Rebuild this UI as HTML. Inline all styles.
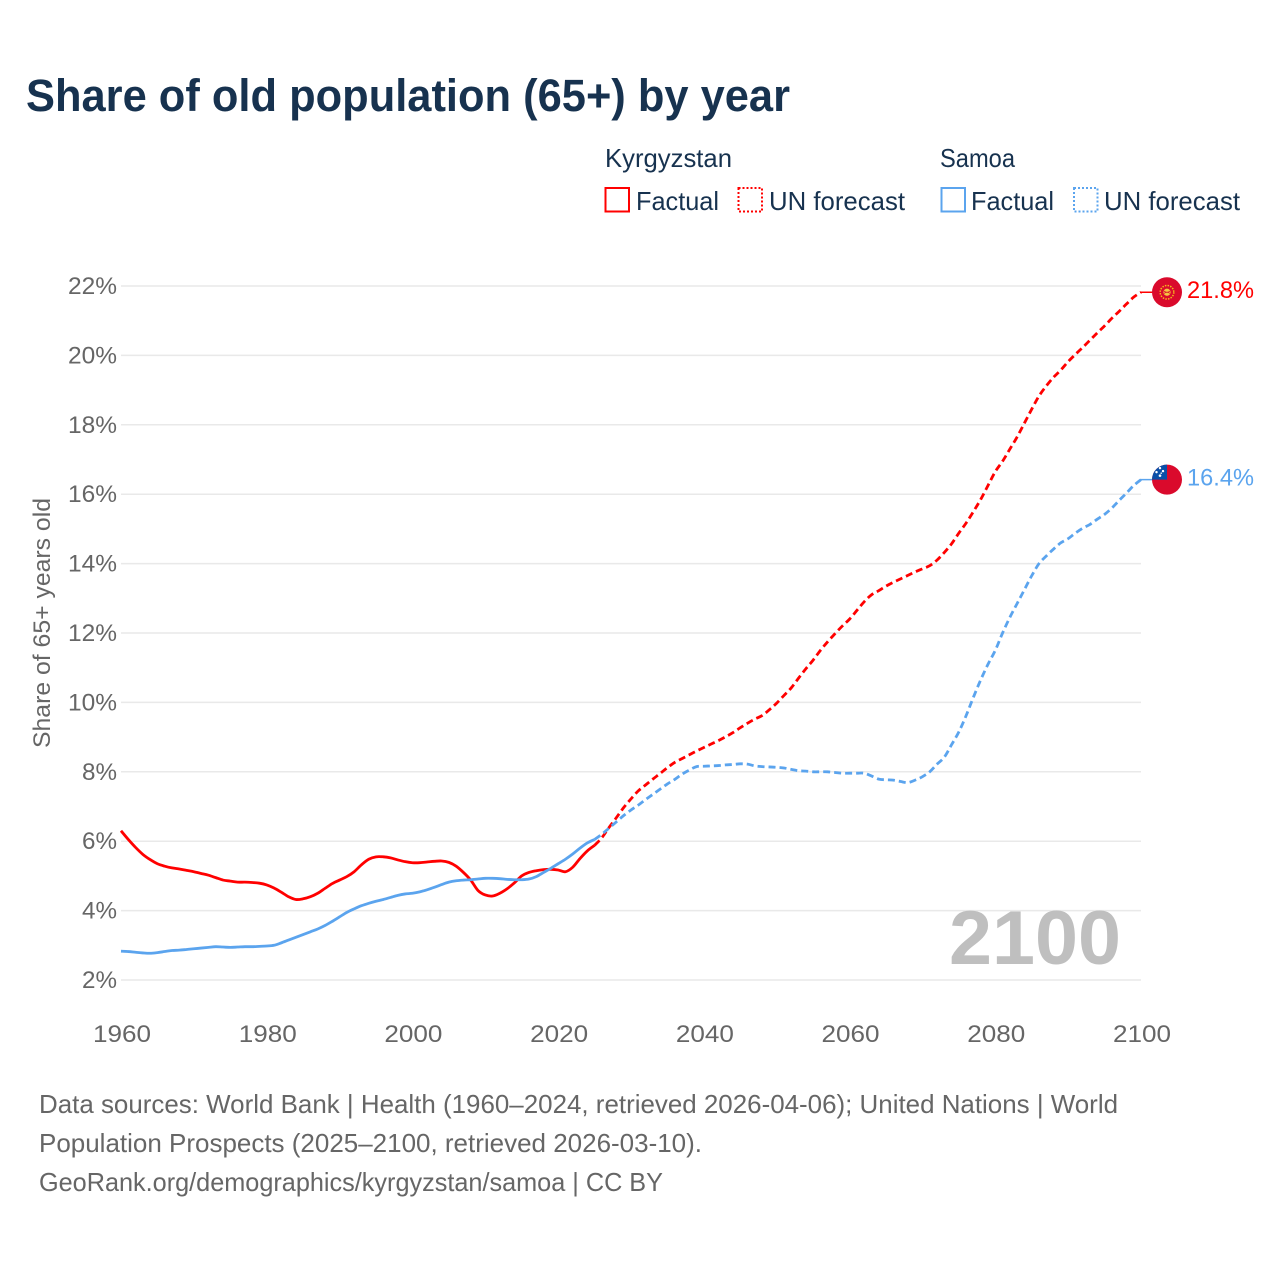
<!DOCTYPE html>
<html lang="en">
<head>
<meta charset="utf-8">
<title>Share of old population (65+) by year</title>
<style>
html,body{margin:0;padding:0;background:#fff;width:1280px;height:1280px;overflow:hidden}
svg{display:block}
text{font-family:"Liberation Sans",sans-serif}
</style>
</head>
<body>
<svg id="chart" width="1280" height="1280" viewBox="0 0 1280 1280" xmlns="http://www.w3.org/2000/svg">
  <defs>
    <clipPath id="flag-clip-kg"><circle cx="0" cy="0" r="15"/></clipPath>
    <clipPath id="flag-clip-ws"><circle cx="0" cy="0" r="15"/></clipPath>
  </defs>
  <rect x="0" y="0" width="1280" height="1280" fill="#fff"/>
  <text x="26" y="111" font-size="45" font-weight="700" fill="#17324f" textLength="764" lengthAdjust="spacingAndGlyphs">Share of old population (65+) by year</text>

  <g>
    <text x="605" y="167" font-size="26" fill="#17324f" textLength="127" lengthAdjust="spacingAndGlyphs">Kyrgyzstan</text>
    <rect x="605.500" y="188" width="23.500" height="23.500" fill="none" stroke="#ff0000" stroke-width="2"/>
    <text x="636" y="210" font-size="26" fill="#17324f" textLength="83" lengthAdjust="spacingAndGlyphs">Factual</text>
    <rect x="738.500" y="188" width="23.500" height="23.500" fill="none" stroke="#ff0000" stroke-width="2" stroke-dasharray="2 2"/>
    <text x="769" y="210" font-size="26" fill="#17324f" textLength="136" lengthAdjust="spacingAndGlyphs">UN forecast</text>

    <text x="940" y="167" font-size="26" fill="#17324f" textLength="75" lengthAdjust="spacingAndGlyphs">Samoa</text>
    <rect x="941.500" y="188" width="23.500" height="23.500" fill="none" stroke="#5ba4ee" stroke-width="2"/>
    <text x="971" y="210" font-size="26" fill="#17324f" textLength="83" lengthAdjust="spacingAndGlyphs">Factual</text>
    <rect x="1074" y="188" width="23.500" height="23.500" fill="none" stroke="#5ba4ee" stroke-width="2" stroke-dasharray="2 2"/>
    <text x="1104" y="210" font-size="26" fill="#17324f" textLength="136" lengthAdjust="spacingAndGlyphs">UN forecast</text>
  </g>

  <g id="grid"></g>
  <g id="y-axis"></g>
  <g id="x-axis"></g>

  <text transform="translate(50,748) rotate(-90)" x="0" y="0" font-size="24" fill="#666" textLength="250" lengthAdjust="spacingAndGlyphs">Share of 65+ years old</text>
  <text x="949" y="964" font-size="76" font-weight="700" fill="#bfbfbf" textLength="172" lengthAdjust="spacingAndGlyphs">2100</text>

  <g id="series"></g>

  <g font-size="26" fill="#666">
    <text x="39" y="1113" textLength="1079" lengthAdjust="spacingAndGlyphs">Data sources: World Bank | Health (1960–2024, retrieved 2026-04-06); United Nations | World</text>
    <text x="39" y="1152" textLength="663" lengthAdjust="spacingAndGlyphs">Population Prospects (2025–2100, retrieved 2026-03-10).</text>
    <text x="39" y="1191" textLength="624" lengthAdjust="spacingAndGlyphs">GeoRank.org/demographics/kyrgyzstan/samoa | CC BY</text>
  </g>
</svg>

<script>
const yTicks = [2, 4, 6, 8, 10, 12, 14, 16, 18, 20, 22];
const xTicks = [1960, 1980, 2000, 2020, 2040, 2060, 2080, 2100];

const factualStartYear = 1960;
const forecastStartYear = 2025;

const kyrgyzstanFactual = [
  6.30, 6.05, 5.82, 5.62, 5.47, 5.35, 5.28, 5.23, 5.20, 5.16,
  5.12, 5.07, 5.02, 4.95, 4.88, 4.85, 4.82, 4.82, 4.81, 4.79,
  4.74, 4.65, 4.53, 4.40, 4.32, 4.34, 4.40, 4.50, 4.64, 4.78,
  4.88, 4.98, 5.12, 5.32, 5.48, 5.55, 5.55, 5.52, 5.46, 5.41,
  5.38, 5.38, 5.40, 5.42, 5.43, 5.39, 5.28, 5.10, 4.88, 4.58,
  4.45, 4.42, 4.50, 4.63, 4.80, 5.00, 5.10, 5.15, 5.18, 5.19,
  5.17, 5.12, 5.25, 5.50, 5.72, 5.88
];
const samoaFactual = [
  2.83, 2.82, 2.80, 2.78, 2.77, 2.79, 2.82, 2.85, 2.86, 2.88,
  2.90, 2.92, 2.94, 2.96, 2.95, 2.94, 2.95, 2.96, 2.96, 2.97,
  2.98, 3.00, 3.07, 3.15, 3.23, 3.31, 3.39, 3.47, 3.57, 3.69,
  3.82, 3.95, 4.05, 4.14, 4.21, 4.27, 4.32, 4.38, 4.44, 4.48,
  4.50, 4.54, 4.60, 4.67, 4.75, 4.82, 4.86, 4.88, 4.89, 4.91,
  4.93, 4.93, 4.92, 4.90, 4.89, 4.89, 4.91, 4.98, 5.10, 5.22,
  5.35, 5.48, 5.63, 5.80, 5.95, 6.05
];
const kyrgyzstanForecast = [
  5.88, 6.10, 6.40, 6.68, 6.97, 7.22, 7.45, 7.62, 7.79, 7.95,
  8.12, 8.27, 8.38, 8.49, 8.60, 8.70, 8.80, 8.90, 9.01, 9.13,
  9.27, 9.40, 9.52, 9.62, 9.79, 9.98, 10.20, 10.42, 10.70, 10.97,
  11.22, 11.50, 11.75, 11.98, 12.20, 12.40, 12.65, 12.90, 13.10, 13.22,
  13.35, 13.46, 13.56, 13.66, 13.76, 13.85, 13.94, 14.10, 14.32, 14.57,
  14.88, 15.17, 15.50, 15.85, 16.25, 16.65, 16.95, 17.30, 17.65, 18.05,
  18.45, 18.83, 19.12, 19.37, 19.58, 19.82, 20.03, 20.23, 20.44, 20.65,
  20.85, 21.07, 21.27, 21.48, 21.68, 21.82
];
const samoaForecast = [
  6.05, 6.20, 6.38, 6.56, 6.74, 6.90, 7.04, 7.20, 7.35, 7.50,
  7.65, 7.78, 7.93, 8.05, 8.15, 8.16, 8.17, 8.18, 8.20, 8.21,
  8.23, 8.22, 8.17, 8.15, 8.14, 8.13, 8.11, 8.07, 8.03, 8.02,
  8.00, 8.00, 8.00, 7.98, 7.96, 7.96, 7.96, 7.96, 7.88, 7.79,
  7.77, 7.76, 7.72, 7.69, 7.76, 7.86, 8.00, 8.22, 8.42, 8.78,
  9.15, 9.62, 10.15, 10.65, 11.10, 11.50, 12.00, 12.45, 12.85, 13.25,
  13.65, 14.00, 14.22, 14.42, 14.60, 14.72, 14.88, 15.02, 15.13, 15.28,
  15.42, 15.60, 15.82, 16.03, 16.25, 16.42
];

const SVG_NS = 'http://www.w3.org/2000/svg';
const RED = '#ff0000';
const BLUE = '#5ba4ee';

function xScale(year) { return 121 + (year - 1960) * (1141 - 121) / 140; }
function yScale(pct) { return 980 - (pct - 2) * (980 - 286) / 20; }

function make(tag, attrs, parent) {
  const el = document.createElementNS(SVG_NS, tag);
  for (const k in attrs) el.setAttribute(k, attrs[k]);
  parent.appendChild(el);
  return el;
}

function smoothPath(startYear, values) {
  const pts = values.map((v, i) => [xScale(startYear + i), yScale(v)]);
  let d = 'M' + pts[0][0].toFixed(2) + ' ' + pts[0][1].toFixed(2);
  for (let i = 0; i < pts.length - 1; i++) {
    const p0 = pts[Math.max(i - 1, 0)];
    const p1 = pts[i];
    const p2 = pts[i + 1];
    const p3 = pts[Math.min(i + 2, pts.length - 1)];
    const c1x = p1[0] + (p2[0] - p0[0]) / 6;
    const c1y = p1[1] + (p2[1] - p0[1]) / 6;
    const c2x = p2[0] - (p3[0] - p1[0]) / 6;
    const c2y = p2[1] - (p3[1] - p1[1]) / 6;
    d += 'C' + c1x.toFixed(2) + ' ' + c1y.toFixed(2) + ' ' + c2x.toFixed(2) + ' ' + c2y.toFixed(2) + ' ' + p2[0].toFixed(2) + ' ' + p2[1].toFixed(2);
  }
  return d;
}

const gridLayer = document.getElementById('grid');
const yAxisLayer = document.getElementById('y-axis');
const xAxisLayer = document.getElementById('x-axis');
const seriesLayer = document.getElementById('series');

yTicks.forEach(function (t) {
  const line = make('line', { x1: 121, x2: 1141, y1: yScale(t), y2: yScale(t), stroke: '#e9e9e9', 'stroke-width': 1.5 }, gridLayer);
  
  
  const label = make('text', { x: 117, y: yScale(t) + 8, 'text-anchor': 'end', 'font-size': 24, fill: '#666' }, yAxisLayer);
  
  
  label.setAttribute('textLength', t < 10 ? 35 : 49);
  label.setAttribute('lengthAdjust', 'spacingAndGlyphs');
  label.textContent = t + '%';
});

xTicks.forEach(function (t) {
  const label = make('text', { x: xScale(t) + 1, y: 1042, 'text-anchor': 'middle', 'font-size': 24, fill: '#666' }, xAxisLayer);
  
  
  label.setAttribute('textLength', 58);
  label.setAttribute('lengthAdjust', 'spacingAndGlyphs');
  label.textContent = String(t);
});

function drawSeries(key, color, factual, forecast) {
  const solid = make('path', { d: smoothPath(factualStartYear, factual), fill: 'none', stroke: color, 'stroke-width': 2.8, 'stroke-linejoin': 'round' }, seriesLayer);
  
  
  const dashed = make('path', { d: smoothPath(forecastStartYear, forecast), fill: 'none', stroke: color, 'stroke-width': 2.8, 'stroke-dasharray': '7 4' }, seriesLayer);
  
  
  const last = forecast[forecast.length - 1];
  const connector = make('line', { x1: xScale(2100) - 1, x2: 1156, y1: yScale(last), y2: yScale(last), stroke: color, 'stroke-width': 1.5 }, seriesLayer);
  
  
  const value = make('text', { x: 1187, y: yScale(last) + 6, 'font-size': 24.5, fill: color }, seriesLayer);
  
  
  value.setAttribute('textLength', 67);
  value.setAttribute('lengthAdjust', 'spacingAndGlyphs');
  value.textContent = last.toFixed(1) + '%';
  return yScale(last);
}

const kgEndY = drawSeries('kyrgyzstan', RED, kyrgyzstanFactual, kyrgyzstanForecast);
const wsEndY = drawSeries('samoa', BLUE, samoaFactual, samoaForecast);

/* Kyrgyzstan flag */
const kgFlag = make('g', { transform: 'translate(1167,' + kgEndY + ')', 'clip-path': 'url(#flag-clip-kg)' }, seriesLayer);


make('rect', { x: -16, y: -16, width: 32, height: 32, fill: '#da0a2c' }, kgFlag);
make('circle', { cx: 0, cy: 0, r: 6.8, fill: 'none', stroke: '#f5b81c', 'stroke-width': 1.5, 'stroke-dasharray': '1.5 1.2' }, kgFlag);
make('circle', { cx: 0, cy: 0, r: 4, fill: '#f5c542', stroke: '#da0a2c', 'stroke-width': 0.8 }, kgFlag);
make('path', { d: 'M-3 -1.2Q0 1.2 3 -1.2M-3 1.2Q0 -1.2 3 1.2', fill: 'none', stroke: '#da0a2c', 'stroke-width': 0.8 }, kgFlag);

/* Samoa flag */
const wsFlag = make('g', { transform: 'translate(1167,' + wsEndY + ')', 'clip-path': 'url(#flag-clip-ws)' }, seriesLayer);


make('rect', { x: -16, y: -16, width: 32, height: 32, fill: '#da0a2c' }, wsFlag);
make('rect', { x: -16, y: -16, width: 16, height: 16, fill: '#0a4fa8' }, wsFlag);
[[-7, -11.5, 1.2], [-4, -8.5, 1.2], [-10.5, -7.5, 1.2], [-7, -4, 1.3], [-5.8, -6.5, 0.8]].forEach(function (s) {
  make('circle', { cx: s[0], cy: s[1], r: s[2], fill: '#fff' }, wsFlag);
});
</script>
</body>
</html>
